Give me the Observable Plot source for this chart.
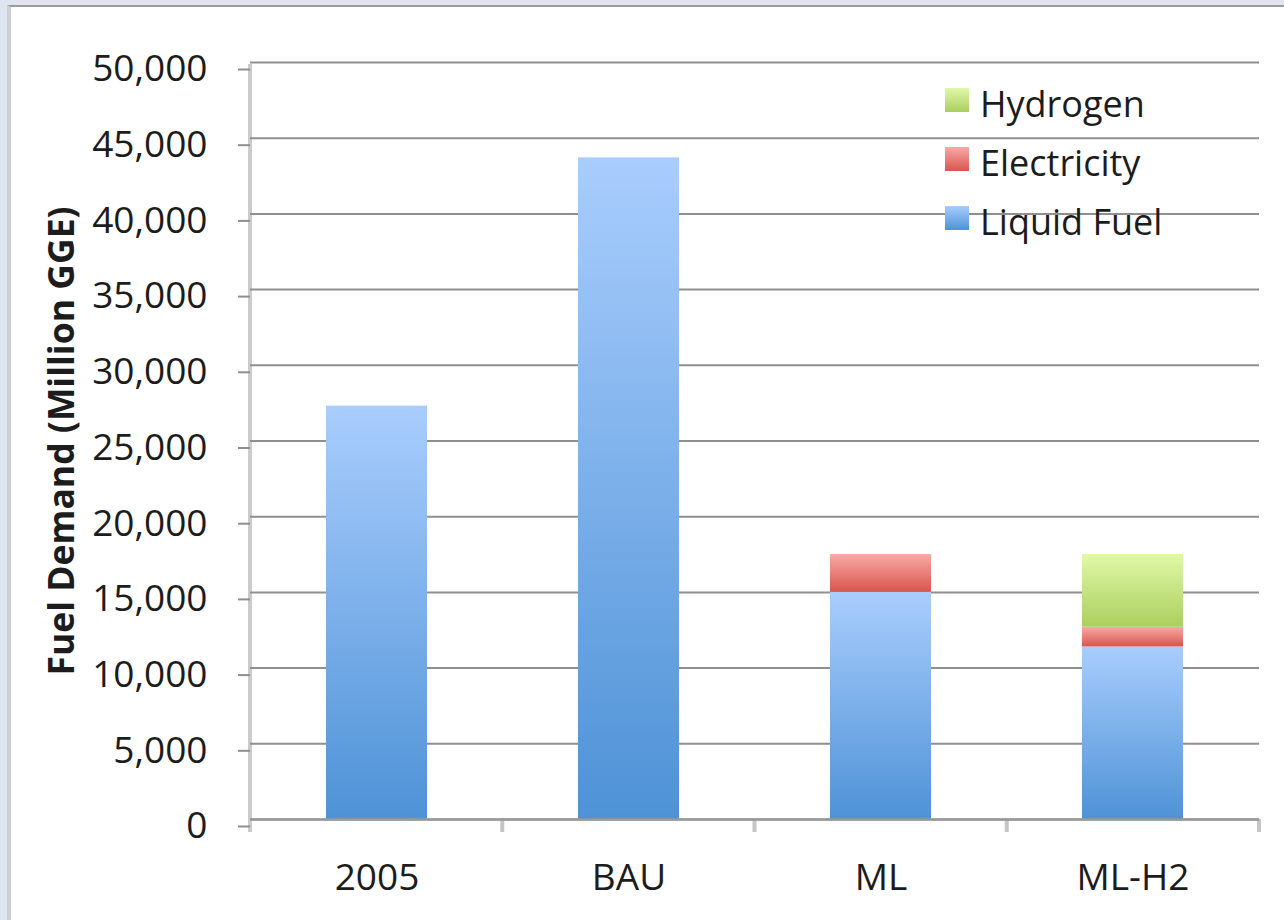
<!DOCTYPE html>
<html>
<head>
<meta charset="utf-8">
<script src="https://cdn.jsdelivr.net/npm/d3@7"></script>
<script src="https://cdn.jsdelivr.net/npm/@observablehq/plot@0.6"></script>
<style>
  html, body { margin: 0; padding: 0; }
  body { width: 1284px; height: 920px; background: #dee5ee; position: relative; overflow: hidden; font-family: "Open Sans", sans-serif; }
  #panel { position: absolute; left: 7px; top: 5px; right: -10px; bottom: -10px; background: #fff; border-top: 2px solid #9b9b9b; border-left: 4px solid #cfcfcf; }
  #chart { position: absolute; left: 0; top: 0; }
  #legend { position: absolute; left: 945px; top: 88px; color: #1c1c1c; font-size: 36px; }
  .item { position: relative; height: 59px; }
  .sw { position: absolute; left: 0; top: 0; width: 24px; height: 24px; }
  .lab { position: absolute; left: 35px; top: -4px; white-space: nowrap; line-height: 40px; }
</style>
</head>
<body>
<div id="panel"></div>
<div id="chart"></div>
<div id="legend"></div>
<script>
// ---- data ----
const categories = ["2005", "BAU", "ML", "ML-H2"];
const seriesNames = ["Liquid Fuel", "Electricity", "Hydrogen"];
const liquidFuel = [27300, 43700, 15000, 11400];
const electricity = [0, 0, 2500, 1300];
const hydrogen = [0, 0, 0, 4800];
const yTicks = [0, 5000, 10000, 15000, 20000, 25000, 30000, 35000, 40000, 45000, 50000];
const yLabel = "Fuel Demand (Million GGE)";
const legendOrder = ["Hydrogen", "Electricity", "Liquid Fuel"];

// gradient colours (top, bottom) per series
const gradients = {
  "Liquid Fuel": ["#a9cdfd", "#4e92d6"],
  "Electricity": ["#f8aaa7", "#d9554d"],
  "Hydrogen": ["#e0f8a8", "#abcf5e"]
};
const gradId = {"Liquid Fuel": "gLiquid", "Electricity": "gElec", "Hydrogen": "gHyd"};

const valuesBySeries = {"Liquid Fuel": liquidFuel, "Electricity": electricity, "Hydrogen": hydrogen};
const table = categories.flatMap((c, i) =>
  seriesNames.map(s => ({category: c, series: s, value: valuesBySeries[s][i]}))
).filter(d => d.value > 0);

const W = 1284, H = 920;
const mL = 250, mR = 25, mT = 62, mB = 101;

function defsMark() {
  const g = d3.create("svg:g");
  const defs = g.append("defs");
  for (const s of seriesNames) {
    const lg = defs.append("linearGradient").attr("id", gradId[s])
      .attr("x1", 0).attr("y1", 0).attr("x2", 0).attr("y2", 1);
    lg.append("stop").attr("offset", "0%").attr("stop-color", gradients[s][0]);
    lg.append("stop").attr("offset", "100%").attr("stop-color", gradients[s][1]);
  }
  return g.node();
}

function frameMark(index, scales, values, dimensions) {
  const {width, height, marginLeft, marginRight, marginBottom} = dimensions;
  const y = scales.y;
  const g = d3.create("svg:g");
  const y0 = y(0), yTop = y(d3.max(yTicks));
  // vertical axis line
  g.append("line").attr("x1", marginLeft).attr("x2", marginLeft)
    .attr("y1", yTop + 2).attr("y2", y0 + 13)
    .attr("stroke", "#cbcbcb").attr("stroke-width", 4);
  // category boundary ticks
  const n = categories.length;
  const step = (width - marginLeft - marginRight) / n;
  for (let i = 1; i <= n; i++) {
    const x = marginLeft + i * step;
    g.append("line").attr("x1", x).attr("x2", x)
      .attr("y1", y0).attr("y2", y0 + 13)
      .attr("stroke", "#c6c6c6").attr("stroke-width", 4);
  }
  return g.node();
}

const plot = Plot.plot({
  width: W,
  height: H,
  marginLeft: mL,
  marginRight: mR,
  marginTop: mT,
  marginBottom: mB,
  style: {background: "transparent", fontFamily: "Open Sans", color: "#1c1c1c"},
  x: {type: "band", domain: categories, paddingInner: 0.6, paddingOuter: 0.3},
  y: {domain: [0, 50000]},
  color: {type: "ordinal", domain: seriesNames, range: seriesNames.map(s => `url(#${gradId[s]})`)},
  marks: [
    defsMark,
    frameMark,
    Plot.ruleY(yTicks, {stroke: "#8f8f8f", strokeWidth: 2}),
    Plot.axisY(yTicks, {tickSize: 12, tickPadding: 31, tickFormat: d3.format(","), stroke: "#8f8f8f", strokeWidth: 2, fontSize: 37, dy: 7, label: null}),
    Plot.barY(table, Plot.stackY({x: "category", y: "value", fill: "series", order: seriesNames})),
    Plot.ruleY([0], {stroke: "#999", strokeWidth: 2.5}),
    Plot.axisX({tickSize: 0, tickPadding: 44, fontSize: 37, label: null}),
    Plot.text([yLabel], {text: d => d, frameAnchor: "left", textAnchor: "middle", dx: -188, rotate: -90, fontSize: 35.5, fontWeight: "bold"})
  ]
});
document.getElementById("chart").appendChild(plot);

// legend
const legend = d3.select("#legend");
for (const s of legendOrder) {
  const it = legend.append("div").attr("class", "item");
  it.append("div").attr("class", "sw")
    .style("background", `linear-gradient(to bottom, ${gradients[s][0]}, ${gradients[s][1]})`);
  it.append("div").attr("class", "lab").text(s);
}
</script>
</body>
</html>
